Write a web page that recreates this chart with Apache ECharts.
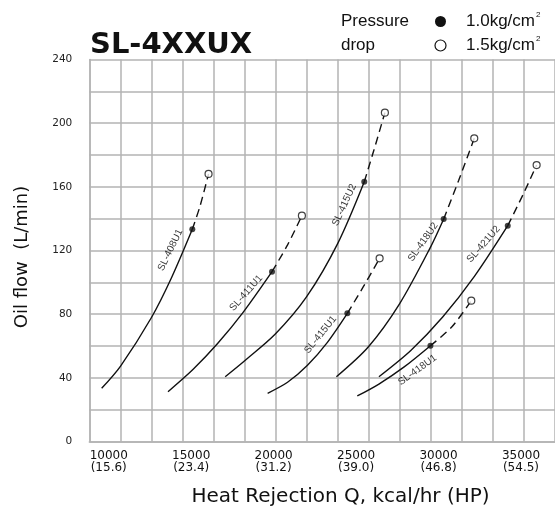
<!DOCTYPE html>
<html>
<head>
<meta charset="utf-8">
<script src="https://cdn.jsdelivr.net/npm/echarts@6/dist/echarts.min.js"></script>
<style>
html,body{margin:0;padding:0;background:#fff;}
#chart{width:555px;height:509px;}
</style>
</head>
<body>
<div id="chart"></div>
<script>
// ---------------- DATA ----------------
// Heat rejection Q (kcal/hr) vs oil flow (L/min). Solid part ends at the 1.0 kg/cm² point,
// dashed part ends at the 1.5 kg/cm² point.
const models = ['SL-408U1', 'SL-411U1', 'SL-415U2', 'SL-415U1', 'SL-418U2', 'SL-418U1', 'SL-421U2'];

const sl408u1Solid = [[8796, 33.4], [10015, 47.4], [12005, 77.9], [13288, 102.7], [14636, 133.3]];
const sl408u1Dashed = [[15137, 148.0], [15682, 168.1]];

const sl411u1Solid = [[13070, 31.3], [14675, 45.2], [16279, 61.7], [17884, 80.8], [19771, 106.7]];
const sl411u1Dashed = [[20772, 123.5], [21696, 141.9]];

const sl415u2Solid = [[16754, 40.7], [17993, 50.6], [19983, 67.5], [21991, 90.8], [24007, 124.5], [25714, 163.2]];
const sl415u2Dashed = [[26336, 183.1], [27042, 206.6]];

const sl415u1Solid = [[19488, 30.3], [20772, 37.2], [22055, 47.9], [23339, 62.3], [24623, 80.5]];
const sl415u1Dashed = [[25663, 97.4], [26702, 115.1]];

const sl418u2Solid = [[23917, 40.7], [25970, 59.4], [27986, 86.5], [29975, 122.0], [30829, 139.8]];
const sl418u2Dashed = [[31792, 164.0], [32799, 190.5]];

const sl418u1Solid = [[25264, 28.6], [26657, 36.1], [28262, 46.7], [29975, 60.2]];
const sl418u1Dashed = [[31362, 72.1], [32607, 88.5]];

const sl421u2Solid = [[26657, 40.7], [28711, 57.2], [30765, 78.2], [32819, 103.9], [34956, 135.6]];
const sl421u2Dashed = [[36028, 156.9], [36817, 173.7]];

const xTickValues = [10000, 15000, 20000, 25000, 30000, 35000];
const xTickHP = ['15.6', '23.4', '31.2', '39.0', '46.8', '54.5'];
const yTickValues = [0, 40, 80, 120, 160, 200, 240];

const legendPressures = ['1.0kg/cm', '1.5kg/cm'];

// ---------------- LAYOUT (positions / styles) ----------------
const curveSets = [
  {name: models[0], solid: sl408u1Solid, dashed: sl408u1Dashed, labelAt: [13224, 120.3], rot: 64},
  {name: models[1], solid: sl411u1Solid, dashed: sl411u1Dashed, labelAt: [18102, 93.3], rot: 48.6},
  {name: models[2], solid: sl415u2Solid, dashed: sl415u2Dashed, labelAt: [24430, 148.6], rot: 65.5},
  {name: models[3], solid: sl415u1Solid, dashed: sl415u1Dashed, labelAt: [22890, 67.1], rot: 51},
  {name: models[4], solid: sl418u2Solid, dashed: sl418u2Dashed, labelAt: [29500, 125.3], rot: 55},
  {name: models[5], solid: sl418u1Solid, dashed: sl418u1Dashed, labelAt: [29141, 44.9], rot: 36},
  {name: models[6], solid: sl421u2Solid, dashed: sl421u2Dashed, labelAt: [33397, 123.9], rot: 49}
];

const GRID = '#b3b3b3';
const INK = '#111';

const series = [];
curveSets.forEach(c => {
  const fill = c.solid[c.solid.length - 1];
  const open = c.dashed[c.dashed.length - 1];
  series.push({
    type: 'line', name: c.name, data: c.solid, smooth: 0.3, showSymbol: false, silent: true,
    lineStyle: {color: INK, width: 1.4}, z: 3
  });
  series.push({
    type: 'line', name: c.name + ' dashed', data: [fill].concat(c.dashed), smooth: 0.3, showSymbol: false, silent: true,
    lineStyle: {color: INK, width: 1.4, type: [8, 5]}, z: 3
  });
  series.push({
    type: 'scatter', data: [fill], symbol: 'circle', symbolSize: 6, silent: true,
    itemStyle: {color: INK}, z: 5
  });
  series.push({
    type: 'scatter', data: [open], symbol: 'circle', symbolSize: 7, silent: true,
    itemStyle: {color: '#fff', borderColor: INK, borderWidth: 1.2}, z: 5
  });
  series.push({
    type: 'scatter', data: [c.labelAt], symbolSize: 1, silent: true,
    itemStyle: {color: 'transparent'}, z: 6,
    label: {
      show: true, position: 'inside', formatter: c.name, rotate: c.rot,
      fontFamily: 'Liberation Sans', fontSize: 10, color: '#000'
    }
  });
});

const chart = echarts.init(document.getElementById('chart'), null, {renderer: 'canvas'});

const measure = (txt, font) => {
  const ctx = document.createElement('canvas').getContext('2d');
  ctx.font = font;
  return ctx.measureText(txt).width;
};
const legFont = '17px "Liberation Sans"';
const legW0 = measure(legendPressures[0], legFont);
const legW1 = measure(legendPressures[1], legFont);

const option = {
  backgroundColor: '#fff',
  animation: false,
  grid: {left: 89.3, top: 59.5, width: 467.4, height: 382, containLabel: false},
  xAxis: [
    {
      type: 'value', min: 8000, max: 38000, interval: 2000, position: 'bottom',
      axisLine: {show: true, lineStyle: {color: GRID, width: 1.5}},
      axisTick: {show: false},
      axisLabel: {show: false},
      splitLine: {show: true, lineStyle: {color: GRID, width: 1.5}}
    },
    {
      type: 'value', min: 8822, max: 37063, position: 'bottom',
      axisLine: {show: false}, axisTick: {show: false}, splitLine: {show: false},
      axisLabel: {
        show: true, customValues: xTickValues, margin: 9,
        fontFamily: 'DejaVu Sans', fontSize: 12, lineHeight: 11.5, color: INK,
        formatter: v => v + '\n(' + xTickHP[xTickValues.indexOf(v)] + ')'
      }
    }
  ],
  yAxis: {
    type: 'value', min: 0, max: 240, interval: 20,
    axisLine: {show: true, lineStyle: {color: GRID, width: 1.5}},
    axisTick: {show: false},
    axisLabel: {
      margin: 17, fontFamily: 'DejaVu Sans', fontSize: 10.5, color: '#222',
      formatter: v => yTickValues.indexOf(v) >= 0 ? String(v) : ''
    },
    splitLine: {show: true, lineStyle: {color: GRID, width: 1.5}}
  },
  series: series,
  graphic: [
    {type: 'text', left: 90, top: 31, style: {text: 'SL-4XXUX', font: 'bold 29px "DejaVu Sans"', fill: INK}},
    {type: 'text', x: 341, y: 21, style: {text: 'Pressure', font: legFont, fill: INK, textVerticalAlign: 'middle'}},
    {type: 'text', x: 341, y: 45, style: {text: 'drop', font: legFont, fill: INK, textVerticalAlign: 'middle'}},
    {type: 'circle', shape: {cx: 440.5, cy: 21.5, r: 5.5}, style: {fill: INK}},
    {type: 'circle', shape: {cx: 440.5, cy: 45.5, r: 5.5}, style: {fill: '#fff', stroke: INK, lineWidth: 1.2}},
    {type: 'text', x: 466, y: 21, style: {text: legendPressures[0], font: legFont, fill: INK, textVerticalAlign: 'middle'}},
    {type: 'text', x: 467 + legW0, y: 15, style: {text: '2', font: '8px "Liberation Sans"', fill: INK, textVerticalAlign: 'middle'}},
    {type: 'text', x: 466, y: 45, style: {text: legendPressures[1], font: legFont, fill: INK, textVerticalAlign: 'middle'}},
    {type: 'text', x: 467 + legW1, y: 39, style: {text: '2', font: '8px "Liberation Sans"', fill: INK, textVerticalAlign: 'middle'}},
    {type: 'text', x: 340.5, y: 497, style: {text: 'Heat Rejection Q, kcal/hr (HP)', font: '20px "DejaVu Sans"', fill: INK, textAlign: 'center', textVerticalAlign: 'middle'}},
    {type: 'text', x: 22, y: 257, rotation: Math.PI / 2, style: {text: 'Oil flow  (L/min)', font: '18px "DejaVu Sans"', fill: INK, textAlign: 'center', textVerticalAlign: 'middle'}}
  ]
};
chart.setOption(option);
</script>
</body>
</html>
